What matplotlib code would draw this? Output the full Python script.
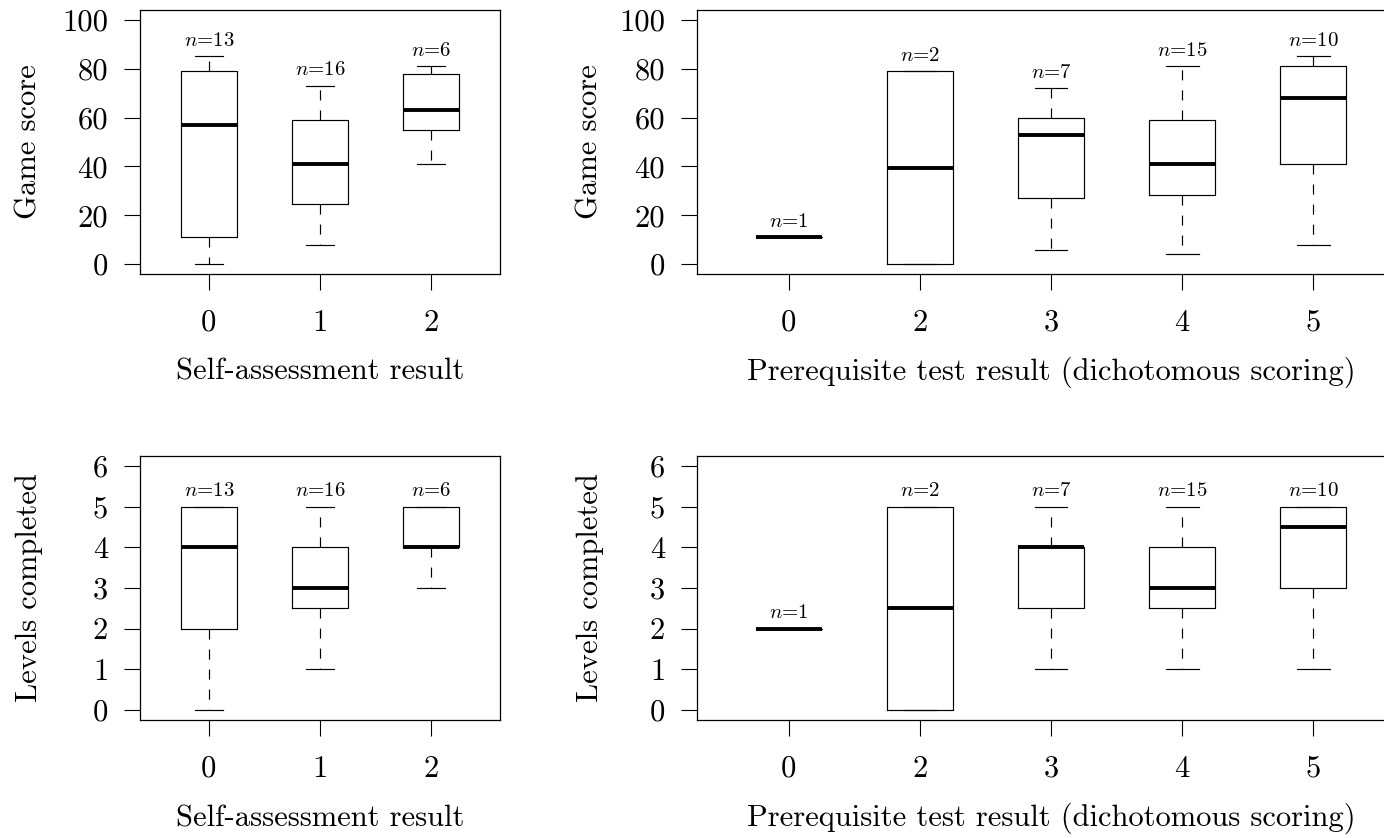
import matplotlib
matplotlib.use("Agg")
import matplotlib.pyplot as plt

plt.rcParams['font.family'] = 'cmr10'
plt.rcParams['mathtext.fontset'] = 'cm'
plt.rcParams['axes.unicode_minus'] = False
plt.rcParams['axes.formatter.use_mathtext'] = True

# ---------------- data ----------------
sa_labels = ['0', '1', '2']
sa_n = [13, 16, 6]

pre_labels = ['0', '2', '3', '4', '5']
pre_n = [1, 2, 7, 15, 10]

# Game score by self-assessment
score_sa_whislo = [0, 8, 41]
score_sa_q1 = [11, 24.5, 55]
score_sa_med = [57, 41, 63]
score_sa_q3 = [79, 59, 78]
score_sa_whishi = [85, 73, 81]

# Game score by prerequisite test
score_pre_whislo = [11, 0, 6, 4, 8]
score_pre_q1 = [11, 0, 27, 28.5, 41]
score_pre_med = [11, 39.5, 53, 41, 68]
score_pre_q3 = [11, 79, 60, 59, 81]
score_pre_whishi = [11, 79, 72, 81, 85]

# Levels completed by self-assessment
levels_sa_whislo = [0, 1, 3]
levels_sa_q1 = [2, 2.5, 4]
levels_sa_med = [4, 3, 4]
levels_sa_q3 = [5, 4, 5]
levels_sa_whishi = [5, 5, 5]

# Levels completed by prerequisite test
levels_pre_whislo = [2, 0, 1, 1, 1]
levels_pre_q1 = [2, 0, 2.5, 2.5, 3]
levels_pre_med = [2, 2.5, 4, 3, 4.5]
levels_pre_q3 = [2, 5, 4, 4, 5]
levels_pre_whishi = [2, 5, 5, 5, 5]

score_ticks = [0, 20, 40, 60, 80, 100]
level_ticks = [0, 1, 2, 3, 4, 5, 6]

# ---------------- layout ----------------
W, H = 1384, 838
fig = plt.figure(figsize=(W / 100, H / 100), dpi=100)


def axes_px(l, r, t, b):
    return fig.add_axes([l / W, 1 - b / H, (r - l) / W, (b - t) / H])


def draw(ax, labels, ns, lo, q1, med, q3, hi, ylim, yticks, ylabel, xlabel, ylabel_x):
    k = len(labels)
    positions = list(range(1, k + 1))
    stats = [dict(whislo=a, q1=b, med=c, q3=d, whishi=e)
             for a, b, c, d, e in zip(lo, q1, med, q3, hi)]
    lw = 0.85
    ax.bxp(stats, positions=positions, widths=0.5, capwidths=0.25,
           showfliers=False, manage_ticks=False,
           boxprops=dict(color='black', linewidth=lw),
           whiskerprops=dict(color='black', linewidth=lw, linestyle=(0, (8.5, 8.5))),
           capprops=dict(color='black', linewidth=lw),
           medianprops=dict(color='black', linewidth=2.8, solid_capstyle='butt'))
    for p, n, top in zip(positions, ns, hi):
        ax.annotate(f'$n$={n}', xy=(p, top), xytext=(0, 7.5),
                    textcoords='offset points', ha='center', va='baseline',
                    fontsize=15)
    ext = 0.04 * k
    ax.set_xlim(0.5 - ext, k + 0.5 + ext)
    ax.set_ylim(ylim)
    ax.set_xticks(positions)
    ax.set_xticklabels(labels)
    ax.set_yticks(yticks)
    ax.set_yticklabels([str(t) for t in yticks])
    ax.tick_params(axis='both', direction='out', length=11.5, width=0.8,
                   labelsize=22, color='black')
    ax.tick_params(axis='x', pad=14)
    ax.tick_params(axis='y', pad=11.5)
    for s in ax.spines.values():
        s.set_linewidth(0.9)
        s.set_color('black')
    ax.set_ylabel(ylabel, fontsize=22, va='center')
    ax.yaxis.set_label_coords(ylabel_x, 0.5)
    ax.set_xlabel(xlabel, fontsize=22, va='baseline')
    ax.xaxis.set_label_coords(0.5, -106 / 264)


ax1 = axes_px(140, 500, 10, 274)
draw(ax1, sa_labels, sa_n, score_sa_whislo, score_sa_q1, score_sa_med,
     score_sa_q3, score_sa_whishi, (-4, 104), score_ticks,
     'Game score', 'Self-assessment result', (29 - 140) / 360)

ax2 = axes_px(697, 1405, 10, 274)
draw(ax2, pre_labels, pre_n, score_pre_whislo, score_pre_q1, score_pre_med,
     score_pre_q3, score_pre_whishi, (-4, 104), score_ticks,
     'Game score', 'Prerequisite test result (dichotomous scoring)', (590 - 697) / 708)

ax3 = axes_px(140, 500, 456, 720)
draw(ax3, sa_labels, sa_n, levels_sa_whislo, levels_sa_q1, levels_sa_med,
     levels_sa_q3, levels_sa_whishi, (-0.24, 6.24), level_ticks,
     'Levels completed', 'Self-assessment result', (29 - 140) / 360)

ax4 = axes_px(697, 1405, 456, 720)
draw(ax4, pre_labels, pre_n, levels_pre_whislo, levels_pre_q1, levels_pre_med,
     levels_pre_q3, levels_pre_whishi, (-0.24, 6.24), level_ticks,
     'Levels completed', 'Prerequisite test result (dichotomous scoring)', (590 - 697) / 708)

fig.savefig('out.png', dpi=100, facecolor='white')
